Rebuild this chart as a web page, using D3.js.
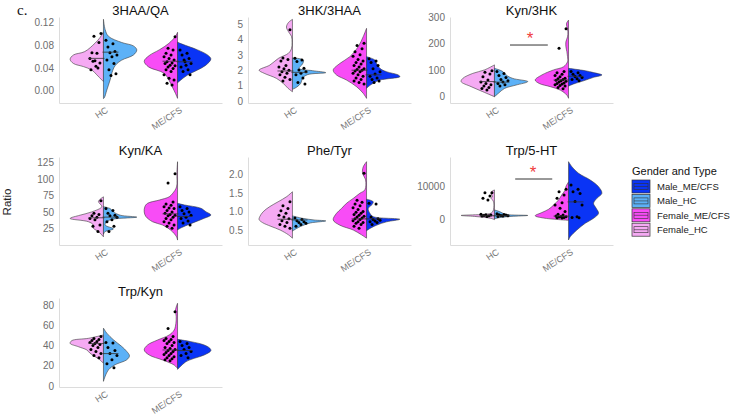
<!DOCTYPE html>
<html><head><meta charset="utf-8">
<script src="https://cdn.jsdelivr.net/npm/d3@7"></script>
<style>body{margin:0;background:#fff;} svg{display:block;}</style>
</head><body>
<svg id="chart" width="733" height="416"></svg>
<script>
// ---------- data ----------
const categories = ["HC", "ME/CFS"];
const groupNames = ["Female_HC", "Male_HC", "Female_ME/CFS", "Male_ME/CFS"];
const groupCategory = ["HC", "HC", "ME/CFS", "ME/CFS"];
const groupSide = [-1, 1, -1, 1];
const groupColors = ["#F5AAF3", "#5CB1F7", "#F84CF6", "#0A34F5"];
const legendOrder = ["Male_ME/CFS", "Male_HC", "Female_ME/CFS", "Female_HC"];
const panelTitles = ["3HAA/QA", "3HK/3HAA", "Kyn/3HK", "Kyn/KA", "Phe/Tyr", "Trp/5-HT", "Trp/Kyn"];

// density profiles [value, relative half-width], order: F_HC, M_HC, F_ME, M_ME
const dens_3HAA_QA = [
  [[0.104,0],[0.094,0.1],[0.084,0.25],[0.069,0.56],[0.063,0.9],[0.0555,1.0],[0.048,0.9],[0.0425,0.6],[0.0365,0.35],[0.028,0.2],[0.019,0.05],[0.016,0]],
  [[0.126,0],[0.108,0.05],[0.096,0.15],[0.085,0.55],[0.079,0.9],[0.072,1.0],[0.063,0.9],[0.054,0.55],[0.045,0.36],[0.036,0.28],[0.019,0.2],[0.001,0.1],[-0.012,0.03],[-0.014,0]],
  [[0.103,0],[0.096,0.06],[0.0835,0.26],[0.072,0.55],[0.062,0.85],[0.052,1.0],[0.042,0.87],[0.031,0.41],[0.019,0.26],[0.007,0.16],[-0.005,0.06],[-0.0135,0]],
  [[0.086,0],[0.0835,0.08],[0.072,0.6],[0.063,0.9],[0.056,1.0],[0.045,0.85],[0.0365,0.6],[0.0276,0.3],[0.019,0.1],[0.014,0]]
];
const pts_3HAA_QA = [
  [0.101,0.096,0.085,0.067,0.066,0.057,0.053,0.049,0.052,0.040,0.037,0.043],
  [0.089,0.083,0.077,0.069,0.067,0.063,0.060,0.054,0.048,0.037,0.030,0.027],
  [0.095,0.075,0.072,0.066,0.063,0.060,0.057,0.054,0.051,0.049,0.048,0.045,0.044,0.042,0.039,0.037,0.034,0.028,0.022,0.019,0.013,0.010],
  [0.072,0.066,0.063,0.057,0.054,0.048,0.045,0.042,0.037,0.034,0.028,0.051]
];
const med_3HAA_QA = [0.057, 0.068, 0.052, 0.051];
const ticks_3HAA_QA = [0, 0.04, 0.08, 0.12];
const tickLabels_3HAA_QA = ["0.00", "0.04", "0.08", "0.12"];
const yDom_3HAA_QA = [-0.0217, 0.130];

const dens_3HK_3HAA = [
  [[5.3,0],[5.1,0.12],[4.8,0.18],[4.5,0.12],[4.2,0.03],[3.8,0.01],[3.4,0.03],[3.1,0.12],[2.77,0.42],[2.33,0.68],[2.0,1.0],[1.8,0.85],[1.47,0.48],[1.15,0.28],[0.82,0.13],[0.6,0]],
  [[2.8,0],[2.66,0.33],[2.4,0.3],[2.12,0.2],[1.97,0.6],[1.84,1.0],[1.71,0.45],[1.47,0.3],[1.15,0.25],[0.89,0.12],[0.76,0]],
  [[4.72,0],[4.18,0.1],[3.53,0.25],[2.88,0.5],[2.44,0.8],[2.01,1.0],[1.69,0.9],[1.36,0.6],[0.93,0.3],[0.5,0.1],[0.17,0]],
  [[2.88,0],[2.66,0.25],[2.44,0.3],[2.12,0.4],[1.9,0.6],[1.69,0.95],[1.58,1.0],[1.36,0.4],[1.15,0.2],[0.93,0.05],[0.82,0]]
];
const pts_3HK_3HAA = [
  [4.63,2.8,2.7,2.6,2.3,2.2,2.1,2.0,1.9,1.8,1.7,1.55,1.4,1.3],
  [2.77,2.66,2.56,2.12,2.01,1.9,1.8,1.7,1.5,1.2,1.1],
  [3.75,3.6,3.4,3.2,3.0,2.9,2.7,2.6,2.5,2.4,2.3,2.2,2.1,2.05,2.0,1.95,1.9,1.8,1.7,1.6,1.5,1.4,1.3,1.2,1.1],
  [2.75,2.6,2.5,2.3,2.1,1.9,1.75,1.6,1.5,1.4,1.3,1.2]
];
const med_3HK_3HAA = [1.95, 1.86, 2.0, 1.7];
const ticks_3HK_3HAA = [0, 1, 2, 3, 4, 5];
const tickLabels_3HK_3HAA = ["0", "1", "2", "3", "4", "5"];
const yDom_3HK_3HAA = [-0.13, 5.455];

const dens_Kyn_3HK = [
  [[120,0],[101,0.3],[88,0.65],[69,0.95],[57,1.0],[38,0.7],[19,0.35],[0,0]],
  [[107,0],[95,0.25],[82,0.35],[69,0.55],[57,1.0],[44,0.65],[31,0.3],[13,0.12],[0,0]],
  [[289,0],[277,0.06],[264,0.05],[245,0.02],[226,0.03],[207,0.08],[189,0.08],[170,0.05],[151,0.03],[132,0.03],[113,0.15],[101,0.45],[82,0.8],[63,1.0],[50,0.88],[38,0.55],[25,0.25],[6,0.05],[-6,0]],
  [[107,0],[98,0.5],[91,0.75],[82,1.0],[73,0.75],[60,0.45],[48,0.15],[40,0]]
];
const pts_Kyn_3HK = [
  [98,92,86,75,63,55,50,45,40,35,31,25],
  [95,88,80,72,65,60,55,50,45,40],
  [256,183,95,90,85,80,75,70,68,65,62,60,58,55,52,50,48,45,42,40,35,30],
  [95,90,85,80,76,72,68,65,60]
];
const med_Kyn_3HK = [57, 55, 63, 77];
const ticks_Kyn_3HK = [0, 100, 200, 300];
const tickLabels_Kyn_3HK = ["0", "100", "200", "300"];
const yDom_Kyn_3HK = [-23.8, 300.8];
const sig_Kyn_3HK = [195, 233]; // bar value, asterisk value

const dens_Kyn_KA = [
  [[73,0],[66,0.15],[58,0.05],[50,0.35],[45,0.7],[40,1.0],[35,0.45],[30,0.3],[25,0.3],[20,0.15],[12,0]],
  [[58,0],[55,0.2],[50,0.3],[45,0.5],[42,1.0],[39,0.3],[35,0.1],[30,0.05],[24,0.3],[20,0.05],[16,0]],
  [[126.5,0],[109,0.02],[88,0.03],[78,0.15],[73,0.25],[68,0.55],[63,0.9],[58,0.98],[50,1.0],[43,0.95],[35,0.75],[30,0.45],[22,0.2],[12,0.03],[7,0]],
  [[63,0],[60.6,0.2],[55.5,0.7],[50.3,0.85],[45.3,1.0],[40.2,0.8],[35.1,0.55],[30,0.3],[25,0.08],[22.4,0]]
];
const pts_Kyn_KA = [
  [67,48,46,44,42,40,38,30,28,20],
  [55,52,48,45,44,42,38,35,28,20],
  [108,94,65,62,60,58,56,55,52,50,48,46,45,44,42,40,38,35,33,30,28,25],
  [58,55,52,50,47,45,42,40,36,33,30]
];
const med_Kyn_KA = [41, 42, 47, 43];
const ticks_Kyn_KA = [25, 50, 75, 100, 125];
const tickLabels_Kyn_KA = ["25", "50", "75", "100", "125"];
const yDom_Kyn_KA = [-0.5, 133.7];

const dens_Phe_Tyr = [
  [[1.53,0],[1.40,0.17],[1.26,0.43],[1.13,0.68],[0.99,0.88],[0.86,0.98],[0.78,1.0],[0.7,0.9],[0.6,0.65],[0.5,0.37],[0.37,0.12],[0.28,0]],
  [[0.88,0],[0.815,0.3],[0.77,0.65],[0.745,1.0],[0.70,0.6],[0.68,0.5],[0.59,0.23],[0.5,0.05],[0.47,0]],
  [[2.34,0],[2.20,0.1],[2.03,0.12],[1.85,0.03],[1.58,0.05],[1.49,0.2],[1.35,0.4],[1.22,0.6],[1.08,0.75],[0.95,0.9],[0.77,1.0],[0.63,0.8],[0.5,0.4],[0.37,0.15],[0.28,0]],
  [[1.33,0],[1.26,0.2],[1.17,0.15],[1.08,0.05],[0.95,0.1],[0.86,0.2],[0.79,1.0],[0.72,0.6],[0.63,0.3],[0.54,0.1],[0.48,0]]
];
const pts_Phe_Tyr = [
  [1.26,1.15,1.08,1.02,0.95,0.9,0.85,0.8,0.75,0.7,0.65,0.6,0.55],
  [0.82,0.78,0.75,0.72,0.7,0.68,0.65,0.6],
  [2.03,1.3,1.25,1.2,1.15,1.1,1.05,1.0,0.98,0.95,0.92,0.9,0.87,0.85,0.82,0.8,0.78,0.75,0.72,0.7,0.68,0.65,0.6,0.55],
  [1.22,1.2,0.85,0.8,0.78,0.76,0.74,0.72,0.7,0.65]
];
const med_Phe_Tyr = [0.79, 0.77, 0.8, 0.8];
const ticks_Phe_Tyr = [0.5, 1.0, 1.5, 2.0];
const tickLabels_Phe_Tyr = ["0.5", "1.0", "1.5", "2.0"];
const yDom_Phe_Tyr = [0.096, 2.466];

const dens_Trp_5HT = [
  [[9000,0],[8500,0.08],[7800,0.1],[7000,0.06],[6400,0.1],[5800,0.05],[5000,0.02],[3500,0.02],[2500,0.04],[1800,0.1],[1400,0.4],[1100,1.0],[800,0.6],[500,0.3],[200,0.1],[-200,0]],
  [[2800,0],[2300,0.15],[1800,0.25],[1400,0.35],[1100,1.0],[800,0.5],[500,0.2],[200,0.05],[0,0]],
  [[11500,0],[10000,0.08],[9000,0.1],[7500,0.2],[5900,0.3],[4300,0.45],[3000,0.6],[2000,0.8],[1000,1.0],[300,0.75],[-400,0]],
  [[17740,0],[16190,0.1],[14150,0.3],[12070,0.65],[10000,0.9],[7950,1.0],[6400,0.85],[4860,0.75],[3310,0.83],[1760,0.9],[210,0.75],[-1330,0.5],[-3400,0.25],[-5480,0.05],[-6500,0]]
];
const pts_Trp_5HT = [
  [8150,8100,7120,6400,5880,1500,1300,1200,1100,1000,900,800],
  [1600,1400,1300,1200,1100,1000,900,800],
  [9200,8400,7400,6400,5000,4300,3300,2300,1500,1200,900,800,700,600,500,400,300],
  [10500,9200,8400,7900,5400,4300,700,500,400]
];
const med_Trp_5HT = [1000, 1000, 900, 5300];
const ticks_Trp_5HT = [0, 10000];
const tickLabels_Trp_5HT = ["0", "10000"];
const yDom_Trp_5HT = [-8050, 19195];
const sig_Trp_5HT = [12380, 15480];

const dens_Trp_Kyn = [
  [[50.4,0],[47.1,0.45],[44.8,0.95],[42.1,1.0],[38.8,0.75],[35.6,0.5],[32.3,0.4],[29,0.25],[25.7,0.1],[22.4,0]],
  [[57.1,0],[52.2,0.1],[45.6,0.3],[39,0.55],[34.1,0.7],[29.8,0.78],[25.9,0.7],[21,0.35],[16,0.15],[9.5,0.05],[4.6,0]],
  [[81.7,0],[75.1,0.06],[68.5,0.04],[61.9,0.05],[55.3,0.1],[50.4,0.25],[45.4,0.6],[40.5,0.9],[35.6,1.0],[30.6,0.85],[25.7,0.45],[20.7,0.1],[17.4,0]],
  [[46.1,0],[43.8,0.4],[40.5,0.8],[37.2,0.97],[34.9,1.0],[30.6,0.8],[27.3,0.5],[24,0.25],[19,0.08],[16.4,0]]
];
const pts_Trp_Kyn = [
  [49,47,46,45,44,43,42,41,40,38,36,34,32,30,28],
  [43,42.5,38,35,32,30,26,22,18],
  [73.4,56.9,49,47,46,45,44,43,42,40,38,37,36,35,34,33,32,31,30,29,28,27,26,25],
  [44,42,40,38,36,34,32,30,28]
];
const med_Trp_Kyn = [42, 32, 35.6, 35];
const ticks_Trp_Kyn = [0, 20, 40, 60, 80];
const tickLabels_Trp_Kyn = ["0", "20", "40", "60", "80"];
const yDom_Trp_Kyn = [-0.99, 86.9];

// ---------- layout ----------
const colX = [59, 248, 450];
const panelW = 163;
const rowY = [[17, 103], [157, 245], [298, 387]];

const panels = [
  {title: panelTitles[0], col: 0, row: 0, dens: dens_3HAA_QA, pts: pts_3HAA_QA, med: med_3HAA_QA, ticks: ticks_3HAA_QA, labels: tickLabels_3HAA_QA, dom: yDom_3HAA_QA},
  {title: panelTitles[1], col: 1, row: 0, dens: dens_3HK_3HAA, pts: pts_3HK_3HAA, med: med_3HK_3HAA, ticks: ticks_3HK_3HAA, labels: tickLabels_3HK_3HAA, dom: yDom_3HK_3HAA},
  {title: panelTitles[2], col: 2, row: 0, dens: dens_Kyn_3HK, pts: pts_Kyn_3HK, med: med_Kyn_3HK, ticks: ticks_Kyn_3HK, labels: tickLabels_Kyn_3HK, dom: yDom_Kyn_3HK, sig: sig_Kyn_3HK, sigX: [0.21, 0.72, 0.48]},
  {title: panelTitles[3], col: 0, row: 1, dens: dens_Kyn_KA, pts: pts_Kyn_KA, med: med_Kyn_KA, ticks: ticks_Kyn_KA, labels: tickLabels_Kyn_KA, dom: yDom_Kyn_KA},
  {title: panelTitles[4], col: 1, row: 1, dens: dens_Phe_Tyr, pts: pts_Phe_Tyr, med: med_Phe_Tyr, ticks: ticks_Phe_Tyr, labels: tickLabels_Phe_Tyr, dom: yDom_Phe_Tyr},
  {title: panelTitles[5], col: 2, row: 1, dens: dens_Trp_5HT, pts: pts_Trp_5HT, med: med_Trp_5HT, ticks: ticks_Trp_5HT, labels: tickLabels_Trp_5HT, dom: yDom_Trp_5HT, sig: sig_Trp_5HT, sigX: [0.28, 0.78, 0.52]},
  {title: panelTitles[6], col: 0, row: 2, dens: dens_Trp_Kyn, pts: pts_Trp_Kyn, med: med_Trp_Kyn, ticks: ticks_Trp_Kyn, labels: tickLabels_Trp_Kyn, dom: yDom_Trp_Kyn}
];

const FONT = "'Liberation Sans', Arial, Helvetica, sans-serif";
const svg = d3.select("#chart");
svg.append("rect").attr("width", 733).attr("height", 416).attr("fill", "#fff");

panels.forEach(p => {
  const x0 = colX[p.col];
  const [top, bottom] = rowY[p.row];
  const g = svg.append("g").attr("transform", `translate(${x0},0)`);
  const x = d3.scalePoint().domain(categories).range([0, panelW]).padding(0.6);
  const y = d3.scaleLinear().domain(p.dom).range([bottom, top]);
  const H = 0.45 * x.step();

  // axes
  const yAxis = d3.axisLeft(y).tickValues(p.ticks).tickFormat((d, i) => p.labels[i])
    .tickSize(0).tickSizeOuter(0).tickPadding(5);
  const ya = g.append("g").call(yAxis);
  ya.select(".domain").attr("stroke", "#dcdcdc").attr("stroke-width", 1);
  ya.selectAll("text").attr("fill", "#6e6e6e").attr("font-size", 10).attr("font-family", FONT);

  const xAxis = d3.axisBottom(x).tickSize(0).tickSizeOuter(0);
  const xa = g.append("g").attr("transform", `translate(0,${bottom})`).call(xAxis);
  xa.select(".domain").attr("stroke", "#dcdcdc").attr("stroke-width", 1);
  xa.selectAll("text").attr("fill", "#7a7a7a").attr("font-size", 9).attr("font-family", FONT)
    .attr("text-anchor", "end").attr("x", 0).attr("y", 0).attr("dy", "0.35em")
    .attr("transform", "translate(3,6) rotate(-33)");

  // violins
  p.dens.forEach((dens, gi) => {
    const cx = x(groupCategory[gi]);
    const side = groupSide[gi];
    const line = d3.line()
      .x(d => cx + side * d[1] * H)
      .y(d => y(d[0]))
      .curve(d3.curveCatmullRom.alpha(0.5));
    g.append("path").attr("d", line(dens) + "Z")
      .attr("fill", groupColors[gi]).attr("stroke", "#3a3a3a").attr("stroke-width", 0.6);
  });

  // points
  p.pts.forEach((vals, gi) => {
    const cx = x(groupCategory[gi]);
    const side = groupSide[gi];
    g.append("g").selectAll("circle").data(vals).join("circle")
      .attr("cx", (d, i) => cx + side * (2.5 + (i * 7) % 12))
      .attr("cy", d => y(d))
      .attr("r", 1.5).attr("fill", "#000");
  });

  // medians
  p.med.forEach((m, gi) => {
    const cx = x(groupCategory[gi]);
    const side = groupSide[gi];
    g.append("line").attr("x1", cx - side * 1).attr("x2", cx + side * 15)
      .attr("y1", y(m)).attr("y2", y(m)).attr("stroke", "#333").attr("stroke-width", 0.8);
  });

  // significance
  if (p.sig) {
    const xa0 = x(categories[0]);
    const st = x.step();
    g.append("line").attr("x1", xa0 + p.sigX[0] * st).attr("x2", xa0 + p.sigX[1] * st)
      .attr("y1", y(p.sig[0])).attr("y2", y(p.sig[0])).attr("stroke", "#333").attr("stroke-width", 1);
    g.append("text").attr("x", xa0 + p.sigX[2] * st).attr("y", y(p.sig[1]) + 9.5)
      .attr("text-anchor", "middle").attr("fill", "#f03c3c").attr("font-size", 17)
      .attr("font-family", FONT).text("*");
  }

  // title
  svg.append("text").attr("x", x0 + panelW / 2).attr("y", top - 2)
    .attr("text-anchor", "middle").attr("font-size", 13).attr("font-family", FONT)
    .attr("fill", "#111").text(p.title);
});

// y label
svg.append("text").attr("transform", "translate(11,202) rotate(-90)")
  .attr("text-anchor", "middle").attr("font-size", 11.5).attr("font-family", FONT)
  .attr("fill", "#222").text("Ratio");

// panel letter
svg.append("text").attr("x", 17).attr("y", 15).attr("font-size", 15)
  .attr("font-family", "'Liberation Serif', 'Times New Roman', serif").attr("fill", "#111").text("c.");

// legend
const lg = svg.append("g").attr("transform", "translate(632,0)");
lg.append("text").attr("x", 0).attr("y", 175).attr("font-size", 11).attr("font-family", FONT)
  .attr("fill", "#111").text("Gender and Type");
legendOrder.forEach((name, i) => {
  const gi = groupNames.indexOf(name);
  const ky = 180 + i * 14.4;
  const k = lg.append("g").attr("transform", `translate(0,${ky})`);
  k.append("rect").attr("width", 18).attr("height", 13).attr("fill", groupColors[gi])
    .attr("stroke", "#333").attr("stroke-width", 0.7);
  k.append("rect").attr("x", 2).attr("y", 3.5).attr("width", 14).attr("height", 6)
    .attr("fill", "none").attr("stroke", "#333").attr("stroke-width", 0.6);
  k.append("line").attr("x1", 2).attr("x2", 16).attr("y1", 6.5).attr("y2", 6.5)
    .attr("stroke", "#333").attr("stroke-width", 0.6);
  k.append("text").attr("x", 25).attr("y", 6.5).attr("dy", "0.35em").attr("font-size", 9.5)
    .attr("font-family", FONT).attr("fill", "#222").text(name);
});
</script>
</body></html>
